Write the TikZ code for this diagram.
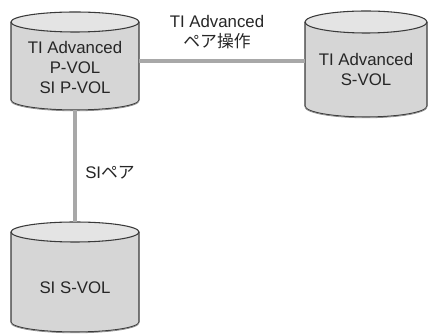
\documentclass[tikz,border=0pt]{standalone}
\usepackage{fontspec}
\setmainfont{Liberation Sans}
\newfontfamily\cjk{Noto Sans CJK JP}
\usetikzlibrary{fit}
\definecolor{bodyfill}{HTML}{D6D6D6}
\definecolor{topfill}{HTML}{E4E4E4}
\definecolor{edgecol}{HTML}{3A3A3A}
\definecolor{linkcol}{HTML}{A8A8A8}
\definecolor{textcol}{HTML}{262626}
\newcommand\drawcyl[6]{% x1, x2, Ytop, Ybot, rx, ry
  \pgfmathsetmacro\cx{(#1+#2)/2}
  \fill[bodyfill] (#1,#3) -- (#1,#4) arc (180:360:#5 and #6) -- (#2,#3) -- cycle;
  \draw[edgecol, line width=0.8pt] (#1,#3) -- (#1,#4) arc (180:360:#5 and #6) -- (#2,#3);
  \draw[edgecol!60, line width=0.6pt] (#1,#4-0.8) arc (180:360:#5 and #6);
  \filldraw[fill=topfill, draw=edgecol, line width=0.8pt] (\cx,#3) ellipse (#5 and #6);
}
\begin{document}
\begin{tikzpicture}[x=0.75pt,y=0.75pt,
  lbl/.style={align=center, text=textcol, font=\fontsize{12.6pt}{15pt}\selectfont, inner sep=0pt},
  conn/.style={draw=linkcol, line width=2.6pt},
  anchorbox/.style={inner sep=0pt, outer sep=0pt}]
\useasboundingbox (0,0) rectangle (429,335);
% cylinders
\drawcyl{11}{139}{313}{235}{64}{10}
\drawcyl{305}{427}{313}{229}{61}{11}
\drawcyl{11}{139}{103}{13}{64}{10}
\node[anchorbox, fit={(11,323)(139,225)}] (c1) {};
\node[anchorbox, fit={(305,324)(427,218)}] (c2) {};
\node[anchorbox, fit={(11,113)(139,3)}] (c3) {};
% connectors
\draw[conn] (c1.east) -- (c1.east -| c2.west);
\draw[conn] (c1.south) -- (c3.north);
% texts
\node[lbl] (t1) at (75,267) {TI Advanced\\P-VOL\\SI P-VOL};
\node[lbl] (t2) at (366,265) {TI Advanced\\S-VOL};
\node[lbl] (t3) at (75,47) {SI S-VOL};
\node[lbl] (l1) at (217,303) {TI Advanced\\{\cjk ペア操作}};
\node[lbl] (l2) at (110,162) {SI{\cjk ペア}};
\end{tikzpicture}
\end{document}
